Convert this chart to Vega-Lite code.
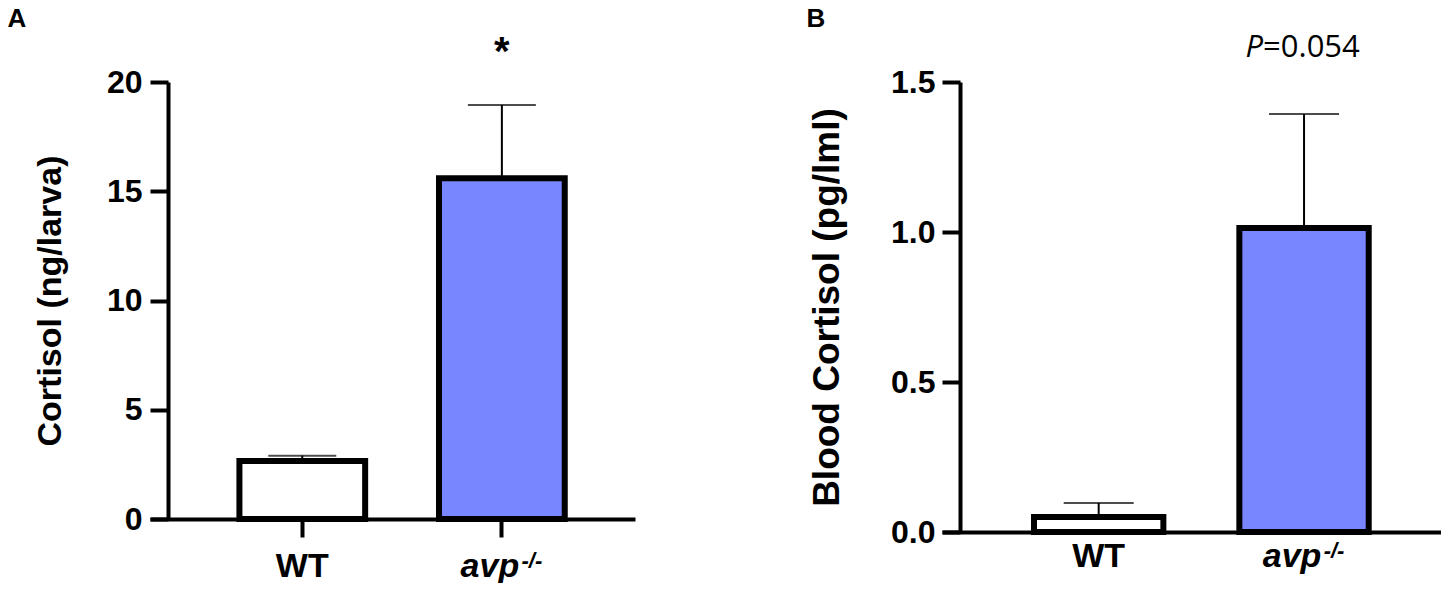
{
  "$schema": "https://vega.github.io/schema/vega-lite/v6.json",
  "padding": {"left": 7, "top": 5, "right": 0, "bottom": 0},
  "config": {
    "view": {"stroke": null},
    "font": "Liberation Sans",
    "axis": {"domainColor": "black", "domainWidth": 4, "tickColor": "black", "tickWidth": 4, "labelColor": "black", "titleColor": "black", "grid": false},
    "title": {"font": "Liberation Sans", "fontSize": 26, "fontWeight": "bold", "color": "black", "anchor": "start", "frame": "bounds"}
  },
  "datasets": {
    "larva": [
      {"group": "WT", "mean": 2.65, "upper": 2.9},
      {"group": "avp", "mean": 15.6, "upper": 18.95}
    ],
    "larvaNote": [
      {"group": "avp", "y": 20.8, "label": "*"}
    ],
    "blood": [
      {"group": "WT", "mean": 0.05, "upper": 0.097},
      {"group": "avp", "mean": 1.013, "upper": 1.393}
    ],
    "bloodNote": [
      {"group": "avp", "y": 1.583, "p": "P", "rest": "=0.054"}
    ]
  },
  "spacing": 171,
  "hconcat": [
    {
      "width": 485,
      "height": 437,
      "title": {"text": "A", "dx": -26, "dy": 3},
      "data": {"name": "larva"},
      "resolve": {"axis": {"x": "independent"}},
      "layer": [
        {
          "mark": {"type": "bar", "stroke": "black", "strokeWidth": 6, "strokeJoin": "miter"},
          "encoding": {
            "x": {
              "field": "group", "type": "nominal", "sort": ["WT", "avp"],
              "scale": {"paddingInner": 0.37, "paddingOuter": 0.4, "align": 0.56},
              "axis": {
                "title": null, "orient": "bottom", "labelAngle": 0, "tickSize": 18, "labelPadding": 12, "labelOverlap": false,
                "labelFontSize": 34, "labelFontWeight": "bold",
                "labelFontStyle": {"condition": {"test": "datum.value == 'avp'", "value": "italic"}, "value": "normal"},
                "labelOffset": {"condition": {"test": "datum.value == 'avp'", "value": -12}, "value": 0}
              }
            },
            "y": {
              "field": "mean", "type": "quantitative", "title": "Cortisol (ng/larva)",
              "scale": {"domain": [0, 20], "nice": false},
              "axis": {
                "values": [0, 5, 10, 15, 20], "offset": -18, "tickSize": 18,
                "labelFontSize": 32, "labelFontWeight": "bold", "labelPadding": 8,
                "titleFontSize": 34, "titleFontWeight": "bold", "titlePadding": 39
              }
            },
            "fill": {"field": "group", "type": "nominal", "scale": {"domain": ["WT", "avp"], "range": ["white", "#7886FF"]}, "legend": null}
          }
        },
        {
          "mark": {"type": "rule", "color": "black", "strokeWidth": 2},
          "encoding": {
            "x": {
              "field": "group", "type": "nominal", "sort": ["WT", "avp"],
              "axis": {
                "title": null, "orient": "bottom", "labelAngle": 0, "domain": false, "tickSize": 18, "tickOpacity": 0, "labelPadding": 13, "labelOverlap": false,
                "labelExpr": "datum.value == 'avp' ? '-/-' : ''",
                "labelFontSize": 22, "labelFontWeight": "bold", "labelFontStyle": "italic", "labelOffset": 30
              }
            },
            "y": {"field": "mean", "type": "quantitative", "title": "Cortisol (ng/larva)"},
            "y2": {"field": "upper"}
          }
        },
        {
          "mark": {"type": "tick", "color": "black", "thickness": 2, "size": 68},
          "encoding": {
            "x": {"field": "group", "type": "nominal", "sort": ["WT", "avp"], "axis": null},
            "y": {"field": "upper", "type": "quantitative", "title": "Cortisol (ng/larva)"}
          }
        },
        {
          "data": {"name": "larvaNote"},
          "mark": {"type": "text", "fontSize": 40, "fontWeight": "bold", "baseline": "alphabetic", "color": "black"},
          "encoding": {
            "x": {"field": "group", "type": "nominal", "sort": ["WT", "avp"], "axis": null},
            "y": {"field": "y", "type": "quantitative", "title": "Cortisol (ng/larva)"},
            "text": {"field": "label"}
          }
        }
      ]
    },
    {
      "width": 499,
      "height": 450,
      "title": {"text": "B", "dx": -2, "dy": 4},
      "data": {"name": "blood"},
      "resolve": {"axis": {"x": "independent"}},
      "layer": [
        {
          "mark": {"type": "bar", "stroke": "black", "strokeWidth": 6, "strokeJoin": "miter"},
          "encoding": {
            "x": {
              "field": "group", "type": "nominal", "sort": ["WT", "avp"],
              "scale": {"paddingInner": 0.37, "paddingOuter": 0.4, "align": 0.56},
              "axis": {
                "title": null, "orient": "bottom", "labelAngle": 0, "ticks": false, "labelPadding": 7, "labelOverlap": false,
                "labelFontSize": 34, "labelFontWeight": "bold",
                "labelFontStyle": {"condition": {"test": "datum.value == 'avp'", "value": "italic"}, "value": "normal"},
                "labelOffset": {"condition": {"test": "datum.value == 'avp'", "value": -12}, "value": 0}
              }
            },
            "y": {
              "field": "mean", "type": "quantitative", "title": "Blood Cortisol (pg/lml)",
              "scale": {"domain": [0, 1.5], "nice": false},
              "axis": {
                "values": [0, 0.5, 1, 1.5], "format": ".1f", "offset": -18, "tickSize": 18,
                "labelFontSize": 32, "labelFontWeight": "bold", "labelPadding": 7,
                "titleFontSize": 37, "titleFontWeight": "bold", "titlePadding": 44
              }
            },
            "fill": {"field": "group", "type": "nominal", "scale": {"domain": ["WT", "avp"], "range": ["white", "#7886FF"]}, "legend": null}
          }
        },
        {
          "mark": {"type": "rule", "color": "black", "strokeWidth": 2},
          "encoding": {
            "x": {
              "field": "group", "type": "nominal", "sort": ["WT", "avp"],
              "axis": {
                "title": null, "orient": "bottom", "labelAngle": 0, "domain": false, "ticks": false, "labelPadding": 8, "labelOverlap": false,
                "labelExpr": "datum.value == 'avp' ? '-/-' : ''",
                "labelFontSize": 22, "labelFontWeight": "bold", "labelFontStyle": "italic", "labelOffset": 30
              }
            },
            "y": {"field": "mean", "type": "quantitative", "title": "Blood Cortisol (pg/lml)"},
            "y2": {"field": "upper"}
          }
        },
        {
          "mark": {"type": "tick", "color": "black", "thickness": 2, "size": 70},
          "encoding": {
            "x": {"field": "group", "type": "nominal", "sort": ["WT", "avp"], "axis": null},
            "y": {"field": "upper", "type": "quantitative", "title": "Blood Cortisol (pg/lml)"}
          }
        },
        {
          "data": {"name": "bloodNote"},
          "mark": {"type": "text", "font": "Open Sans", "fontSize": 31, "fontStyle": "italic", "align": "right", "dx": -41, "baseline": "alphabetic", "color": "black"},
          "encoding": {
            "x": {"field": "group", "type": "nominal", "sort": ["WT", "avp"], "axis": null},
            "y": {"field": "y", "type": "quantitative", "title": "Blood Cortisol (pg/lml)"},
            "text": {"field": "p"}
          }
        },
        {
          "data": {"name": "bloodNote"},
          "mark": {"type": "text", "font": "Open Sans", "fontSize": 31, "align": "left", "dx": -41, "baseline": "alphabetic", "color": "black"},
          "encoding": {
            "x": {"field": "group", "type": "nominal", "sort": ["WT", "avp"], "axis": null},
            "y": {"field": "y", "type": "quantitative", "title": "Blood Cortisol (pg/lml)"},
            "text": {"field": "rest"}
          }
        }
      ]
    }
  ]
}
